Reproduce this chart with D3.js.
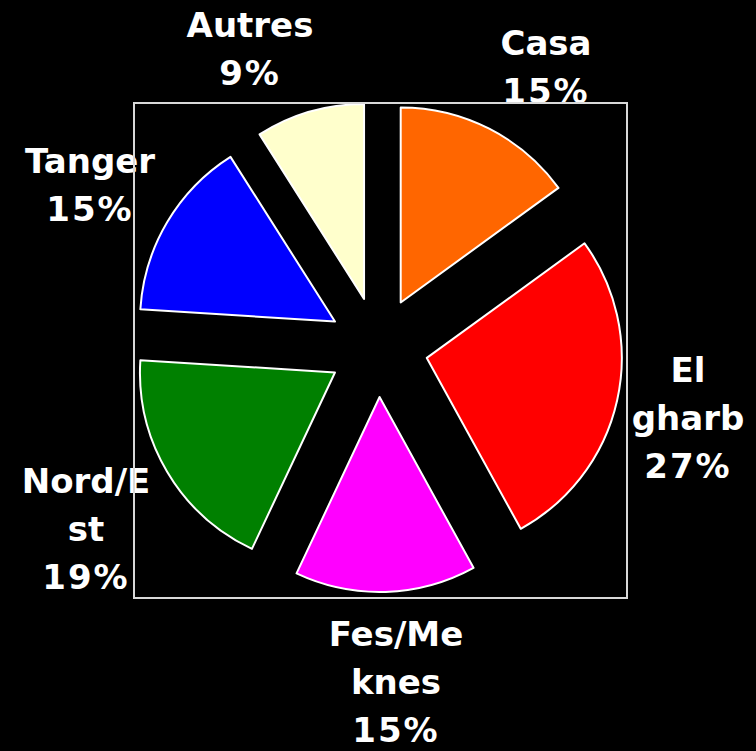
<!DOCTYPE html>
<html>
<head>
<meta charset="utf-8">
<script src="https://cdn.jsdelivr.net/npm/d3@7"></script>
<style>
  html, body { margin: 0; padding: 0; background: #000; }
  svg { display: block; }
</style>
</head>
<body>
<svg id="chart"></svg>
<script>
const regions = ["Casa", "El gharb", "Fes/Meknes", "Nord/Est", "Tanger", "Autres"];
const shares = [15, 27, 15, 19, 15, 9];
// label lines as they wrap in the picture
const labelLines = [
    ["Casa", "15%"],
    ["El", "gharb", "27%"],
    ["Fes/Me", "knes", "15%"],
    ["Nord/E", "st", "19%"],
    ["Tanger", "15%"],
    ["Autres", "9%"]
];
const sliceColors = ["#ff6600", "#ff0000", "#ff00ff", "#008000", "#0000ff", "#ffffcc"];

const width = 756, height = 751;
const plot = { x: 134, y: 103, w: 493, h: 495 };
const cx = 378, cy = 347, radius = 195, explode = 50;
const lineHeight = 48;

// where each label block sits (center x, first baseline)
const labelPos = [
    [546, 55],
    [688, 382],
    [396, 646],
    [86, 493],
    [90, 173],
    [250, 37]
];

const svg = d3.select("#chart")
    .attr("width", width)
    .attr("height", height);

svg.append("rect")
    .attr("width", width)
    .attr("height", height)
    .attr("fill", "#000");

const color = d3.scaleOrdinal().domain(regions).range(sliceColors);

const pie = d3.pie().sort(null).value((d, i) => shares[i]);
const arc = d3.arc().innerRadius(0).outerRadius(radius);
const arcs = pie(regions);

const g = svg.append("g").attr("transform", `translate(${cx},${cy})`);

g.selectAll("path.slice")
    .data(arcs)
    .enter()
    .append("path")
    .attr("class", "slice")
    .attr("transform", d => {
        const a = (d.startAngle + d.endAngle) / 2;
        return `translate(${explode * Math.sin(a)},${-explode * Math.cos(a)})`;
    })
    .attr("d", arc)
    .attr("fill", d => color(d.data))
    .attr("stroke", "#fff")
    .attr("stroke-width", 2)
    .attr("stroke-linejoin", "round");

const labels = svg.selectAll("text.label")
    .data(regions)
    .enter()
    .append("text")
    .attr("class", "label")
    .attr("text-anchor", "middle")
    .attr("fill", "#fff")
    .style("font-family", "'DejaVu Sans', Verdana, sans-serif")
    .style("font-weight", "bold")
    .style("font-size", "34px");

labels.selectAll("tspan")
    .data((d, i) => labelLines[i].map((t, j) => ({ t, j, i })))
    .enter()
    .append("tspan")
    .attr("x", d => labelPos[d.i][0])
    .attr("y", d => labelPos[d.i][1] + d.j * lineHeight)
    .style("letter-spacing", d => d.t.endsWith("%") ? "2px" : null)
    .text(d => d.t);

// plot area border, drawn on top like the original
svg.append("rect")
    .attr("x", plot.x)
    .attr("y", plot.y)
    .attr("width", plot.w)
    .attr("height", plot.h)
    .attr("fill", "none")
    .attr("stroke", "#d9d9d9")
    .attr("stroke-width", 2);
</script>
</body>
</html>
